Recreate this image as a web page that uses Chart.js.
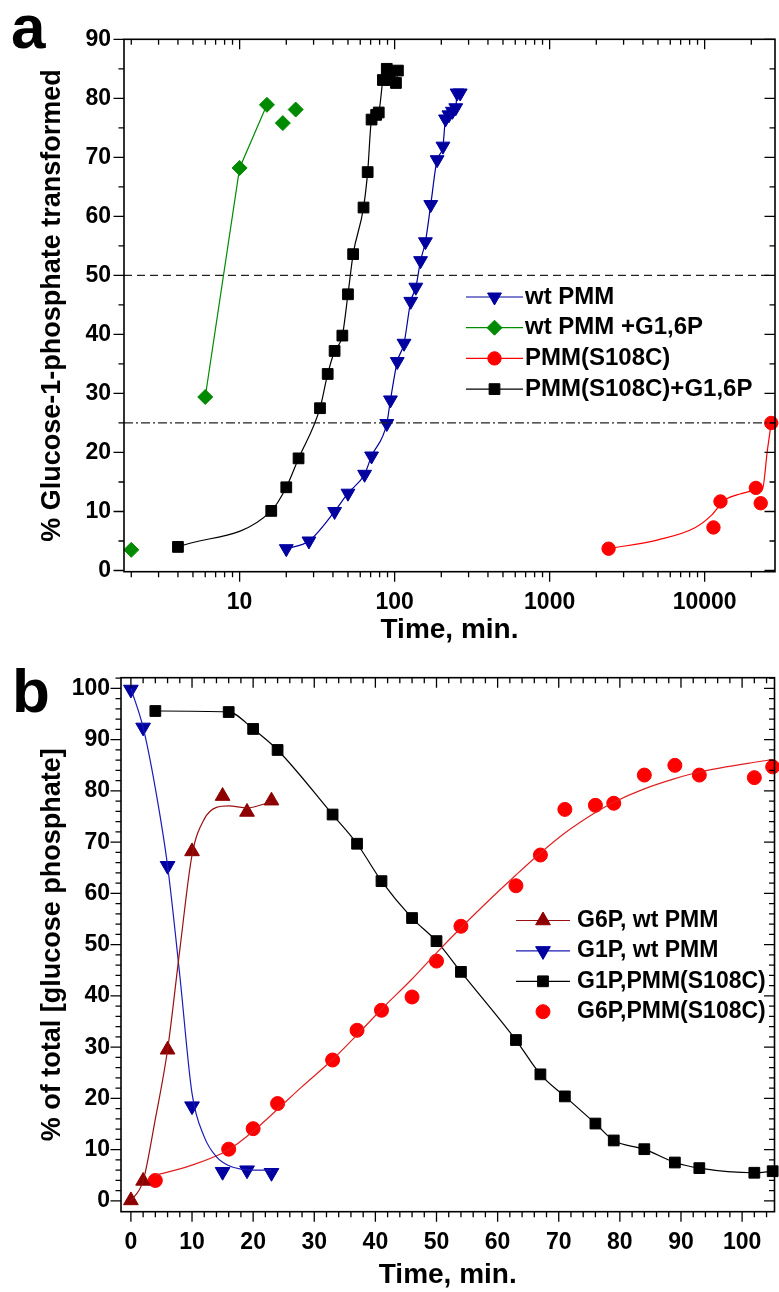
<!DOCTYPE html>
<html>
<head>
<meta charset="utf-8">
<script src="https://cdn.jsdelivr.net/npm/chart.js@4.4.1/dist/chart.umd.min.js"></script>
<style>
  html, body { margin: 0; padding: 0; background: #fff; overflow: hidden; }
  #wrap { width: 779px; height: 1292px; overflow: hidden; position: relative; }
  .pane { position: absolute; left: 0; }
  #pa { top: 0; }
  #pb { top: 650px; }
</style>
</head>
<body>
<div id="wrap">
  <div class="pane" id="pa"><canvas id="ca" width="784" height="650"></canvas></div>
  <div class="pane" id="pb"><canvas id="cb" width="784" height="642"></canvas></div>
</div>
<script>
// ---- panel a : % G1P transformed vs time (log) ----
const wtPmmTime = [20, 28, 41, 50, 64, 71, 89, 94, 104, 115, 127, 137, 147, 158, 171, 188, 205, 213, 224, 236, 248, 253, 265];
const wtPmmPct  = [3.7, 5.0, 10.0, 13.1, 16.3, 19.4, 24.9, 28.9, 35.4, 38.5, 45.6, 48.0, 52.5, 55.7, 62.0, 69.6, 71.9, 76.5, 77.2, 77.8, 78.4, 80.9, 80.9];
const wtG16Time = [2, 6, 10, 15, 19, 23];
const wtG16Pct  = [3.5, 29.4, 68.2, 78.9, 75.8, 78.1];
const greenJoin = [1, 3];          // only points 1..3 are joined by the line
const s108Time  = [2400, 11400, 12650, 21400, 23000, 26900];
const s108Pct   = [3.7, 7.3, 11.7, 14.0, 11.4, 25.0];
const s108FitTime = [2400, 5000, 8600, 11000, 13400, 17100, 20900, 23600, 25400, 26900];
const s108FitPct  = [3.7, 5.2, 7.2, 9.3, 11.9, 13.0, 13.5, 13.8, 20.4, 25.0];
const refLevels = [50, 25];

// ---- panel b : % of total glucose phosphate vs time ----
const wtTime   = [0, 2, 6, 10, 15, 19, 23];
const g6pWt    = [0.1, 3.9, 29.5, 68.2, 79.0, 75.9, 78.1];
const g1pWt    = [99.8, 92.4, 65.4, 18.5, 5.7, 6.0, 5.5];
const g6pWtFitTime = [0, 2, 4, 6, 8, 10, 12, 14, 16, 19, 23];
const g6pWtFit     = [0, 3.9, 16, 29.5, 49, 67.5, 74.5, 76.8, 77.1, 76.7, 77.9];
const g1pWtFitTime = [0, 2, 4, 6, 8, 10, 12, 14, 16, 18, 20, 23];
const g1pWtFit     = [100, 92.4, 80.5, 65.4, 44, 21, 12.5, 8.6, 6.9, 6.2, 6.0, 6.0];
// S108C + G1,6P series (shared with panel a black squares)
const s108cTime = [4, 16, 20, 24, 33, 37, 41, 46, 50, 54, 63, 67, 71, 76, 79, 84, 89, 93, 102, 105];
const g6pS108c  = [4.0, 10.1, 14.1, 19.0, 27.5, 33.3, 37.2, 39.8, 46.8, 53.6, 61.5, 67.5, 76.4, 77.2, 77.6, 83.1, 85.0, 83.1, 82.6, 84.7];
const g1pS108c  = [95.6, 95.4, 92.1, 88.0, 75.4, 69.7, 62.4, 55.2, 50.7, 44.7, 31.4, 24.7, 20.4, 15.1, 11.8, 10.1, 7.5, 6.4, 5.5, 5.8];
const g6pFitTime = [4, 10, 16, 20, 24, 28, 33, 37, 41, 46, 50, 54, 58, 63, 67, 71, 76, 79, 84, 89, 93, 102, 105];
const g6pFit     = [5.0, 7.0, 10.0, 13.6, 17.9, 22.3, 27.6, 32.4, 37.4, 43.3, 48.4, 53.3, 58.0, 63.6, 67.9, 71.8, 75.8, 77.8, 80.4, 82.4, 83.7, 85.6, 86.1];

const FONT = '"Liberation Sans", Arial, sans-serif';
const H = Chart.helpers;

function xy(xs, ys) { return xs.map((x, i) => ({x: x, y: ys[i]})); }
function logTicks(min, max) {
  const out = [];
  for (let d = 0; d <= 5; d++) for (let m = 1; m <= 9; m++) {
    const v = m * Math.pow(10, d);
    if (v >= min && v <= max) out.push(v);
  }
  return out;
}
function stepTicks(from, to, step) {
  const out = [];
  for (let v = from; v <= to + 1e-9; v += step) out.push(v);
  return out;
}
const isDecade = v => Math.abs(Math.log10(v) - Math.round(Math.log10(v))) < 1e-9;

const framePlugin = {
  id: 'frame',
  afterDraw(chart, args, o) {
    const {ctx, chartArea: a} = chart;
    const xs = chart.scales.x, ys = chart.scales.y;
    ctx.save();
    ctx.strokeStyle = '#000';
    ctx.lineWidth = 1.6;
    ctx.strokeRect(a.left, a.top, a.right - a.left, a.bottom - a.top);
    ctx.lineWidth = 1.3;
    ctx.beginPath();
    xs.ticks.forEach(t => {
      const p = xs.getPixelForValue(t.value);
      if (p < a.left - 1 || p > a.right + 1) return;
      const len = o.xMajor(t.value) ? 10 : 5.5;
      ctx.moveTo(p, a.bottom); ctx.lineTo(p, a.bottom + len);
      ctx.moveTo(p, a.top); ctx.lineTo(p, a.top + len);
    });
    ys.ticks.forEach(t => {
      const p = ys.getPixelForValue(t.value);
      if (p < a.top - 1 || p > a.bottom + 1) return;
      const len = o.yMajor(t.value) ? 10.5 : 5.5;
      ctx.moveTo(a.left - len, p); ctx.lineTo(a.left, p);
      ctx.moveTo(a.right - len, p); ctx.lineTo(a.right, p);
    });
    ctx.stroke();
    ctx.fillStyle = '#000';
    ctx.font = 'bold 62px ' + FONT;
    ctx.textBaseline = 'alphabetic';
    ctx.textAlign = 'left';
    ctx.fillText(o.letter, o.lx, o.ly);
    ctx.restore();
  }
};

const keyPlugin = {
  id: 'key',
  afterDraw(chart, args, o) {
    const ctx = chart.ctx;
    ctx.save();
    ctx.font = 'bold ' + o.size + 'px ' + FONT;
    ctx.textBaseline = 'middle';
    ctx.textAlign = 'left';
    o.items.forEach((it, i) => {
      const ds = chart.data.datasets[it.ds];
      const y = o.y0 + i * o.dy;
      if (it.lineDs !== undefined) {
        const ls = chart.data.datasets[it.lineDs];
        ctx.strokeStyle = ls.borderColor;
        ctx.lineWidth = ls.borderWidth;
        ctx.beginPath(); ctx.moveTo(o.x1, y); ctx.lineTo(o.x2, y); ctx.stroke();
      }
      ctx.fillStyle = ds.pointBackgroundColor;
      ctx.strokeStyle = ds.pointBorderColor;
      ctx.lineWidth = 1;
      H.drawPoint(ctx, {pointStyle: ds.pointStyle, rotation: ds.pointRotation || 0, radius: ds.pointRadius, borderWidth: 1}, (o.x1 + o.x2) / 2, y);
      ctx.fillStyle = '#000';
      ctx.fillText(ds.label, o.tx, y);
    });
    ctx.restore();
  }
};

function marks(label, data, color, style, radius, rot, line) {
  return Object.assign({
    label: label, data: data, clip: false,
    borderColor: color, backgroundColor: color, borderWidth: 1.2,
    pointStyle: style, pointRadius: radius, pointRotation: rot || 0,
    pointBackgroundColor: color, pointBorderColor: color, pointBorderWidth: 1,
    showLine: !!line, cubicInterpolationMode: 'monotone'
  }, line || {});
}
function curve(data, color) {
  return {data: data, borderColor: color, borderWidth: 1.2, pointRadius: 0, clip: false,
          cubicInterpolationMode: 'monotone', fill: false};
}

const tickFont = {family: FONT, size: 23, weight: 'bold'};
const titleFont = {family: FONT, size: 28, weight: 'bold'};
const yTitleFont = {family: FONT, size: 27, weight: 'bold'};

// ---------- panel a ----------
const xMinA = 1.795, xMaxA = 28440;
const blue = '#0000A0', green = '#008A00', red = '#FF0000', dark = '#8E0000';

new Chart(document.getElementById('ca'), {
  type: 'line',
  data: {
    datasets: [
      Object.assign(curve([{x: xMinA, y: refLevels[0]}, {x: xMaxA, y: refLevels[0]}], '#222'), {borderDash: [8, 5], borderWidth: 1.3}),
      Object.assign(curve([{x: xMinA, y: refLevels[1]}, {x: xMaxA, y: refLevels[1]}], '#222'), {borderDash: [9, 3, 2, 3], borderWidth: 1.3}),
      curve(xy(s108FitTime, s108FitPct), red),
      marks('wt PMM', xy(wtPmmTime, wtPmmPct), blue, 'triangle', 8, 180, {}),
      marks('wt PMM +G1,6P', xy(wtG16Time, wtG16Pct), green, 'rectRot', 7.5, 0, {
        cubicInterpolationMode: 'default', tension: 0,
        segment: {borderColor: c => (c.p0DataIndex >= greenJoin[0] && c.p1DataIndex <= greenJoin[1]) ? green : 'rgba(0,0,0,0)'}
      }),
      marks('PMM(S108C)', xy(s108Time, s108Pct), red, 'circle', 6.7, 0, null),
      marks('PMM(S108C)+G1,6P', xy(s108cTime, g6pS108c), '#000', 'rect', 7.6, 0, {})
    ]
  },
  options: {
    responsive: false, animation: false, devicePixelRatio: 1,
    layout: {padding: {top: 39.3, right: 3, left: 0, bottom: 0}},
    plugins: {
      legend: {display: false}, tooltip: {enabled: false},
      frame: {letter: 'a', lx: 11, ly: 48, xMajor: isDecade, yMajor: v => v % 10 === 0},
      key: {size: 24, x1: 466, x2: 523, tx: 525, y0: 297, dy: 30.7,
            items: [{ds: 3, lineDs: 3}, {ds: 4, lineDs: 4}, {ds: 5, lineDs: 2}, {ds: 6, lineDs: 6}]}
    },
    scales: {
      x: {
        type: 'logarithmic', min: xMinA, max: xMaxA,
        afterFit: s => { s.height = 650 - 571.7; },
        afterBuildTicks: s => { s.ticks = logTicks(xMinA, xMaxA).map(v => ({value: v})); },
        grid: {display: false, drawTicks: false}, border: {display: false},
        ticks: {autoSkip: false, maxRotation: 0, padding: 17, color: '#000', font: tickFont,
                callback: v => isDecade(v) ? String(Math.round(v)) : ''},
        title: {display: true, text: 'Time, min.', color: '#000', font: titleFont, padding: {top: 0, bottom: 3}}
      },
      y: {
        min: -0.2, max: 90,
        afterFit: s => { s.width = 124; },
        afterBuildTicks: s => { s.ticks = stepTicks(0, 90, 5).map(v => ({value: v})); },
        grid: {display: false, drawTicks: false}, border: {display: false},
        ticks: {autoSkip: false, padding: 13, color: '#000', font: tickFont,
                callback: v => v % 10 === 0 ? String(v) : ''},
        title: {display: true, text: '% Glucose-1-phosphate transformed', color: '#000', font: yTitleFont, padding: {top: 36, bottom: 0}}
      }
    }
  },
  plugins: [framePlugin, keyPlugin]
});

// ---------- panel b ----------
const xMinB = -1.62, xMaxB = 105.3;
new Chart(document.getElementById('cb'), {
  type: 'line',
  data: {
    datasets: [
      curve(xy(g6pWtFitTime, g6pWtFit), '#9A1010'),
      curve(xy(g1pWtFitTime, g1pWtFit), '#1A1AB8'),
      curve(xy(g6pFitTime, g6pFit), '#E02020'),
      marks('G6P, wt PMM', xy(wtTime, g6pWt), dark, 'triangle', 8.5, 0, null),
      marks('G1P, wt PMM', xy(wtTime, g1pWt), blue, 'triangle', 8.5, 180, null),
      marks('G1P,PMM(S108C)', xy(s108cTime, g1pS108c), '#000', 'rect', 7.6, 0, {}),
      marks('G6P,PMM(S108C)', xy(s108cTime, g6pS108c), red, 'circle', 7, 0, null)
    ]
  },
  options: {
    responsive: false, animation: false, devicePixelRatio: 1,
    layout: {padding: {top: 27.7, right: 3, left: 0, bottom: 0}},
    plugins: {
      legend: {display: false}, tooltip: {enabled: false},
      frame: {letter: 'b', lx: 12, ly: 62, xMajor: v => v % 10 === 0, yMajor: v => v % 10 === 0},
      key: {size: 23, x1: 516, x2: 570, tx: 577, y0: 270.5, dy: 30.4,
            items: [{ds: 3, lineDs: 0}, {ds: 4, lineDs: 1}, {ds: 5, lineDs: 5}, {ds: 6}]}
    },
    scales: {
      x: {
        type: 'linear', min: xMinB, max: xMaxB,
        afterFit: s => { s.height = 642 - 561.7; },
        afterBuildTicks: s => { s.ticks = stepTicks(0, 104, 2).map(v => ({value: v})); },
        grid: {display: false, drawTicks: false}, border: {display: false},
        ticks: {autoSkip: false, maxRotation: 0, padding: 17, color: '#000', font: tickFont,
                callback: v => v % 10 === 0 ? String(v) : ''},
        title: {display: true, text: 'Time, min.', color: '#000', font: titleFont, padding: {top: 0, bottom: 0}}
      },
      y: {
        min: -2.1, max: 102.1,
        afterFit: s => { s.width = 121; },
        afterBuildTicks: s => { s.ticks = stepTicks(0, 102, 2).map(v => ({value: v})); },
        grid: {display: false, drawTicks: false}, border: {display: false},
        ticks: {autoSkip: false, padding: 11, color: '#000', font: tickFont,
                callback: v => v % 10 === 0 ? String(v) : ''},
        title: {display: true, text: '% of total [glucose phosphate]', color: '#000', font: yTitleFont, padding: {top: 36, bottom: 0}}
      }
    }
  },
  plugins: [framePlugin, keyPlugin]
});
</script>
</body>
</html>
